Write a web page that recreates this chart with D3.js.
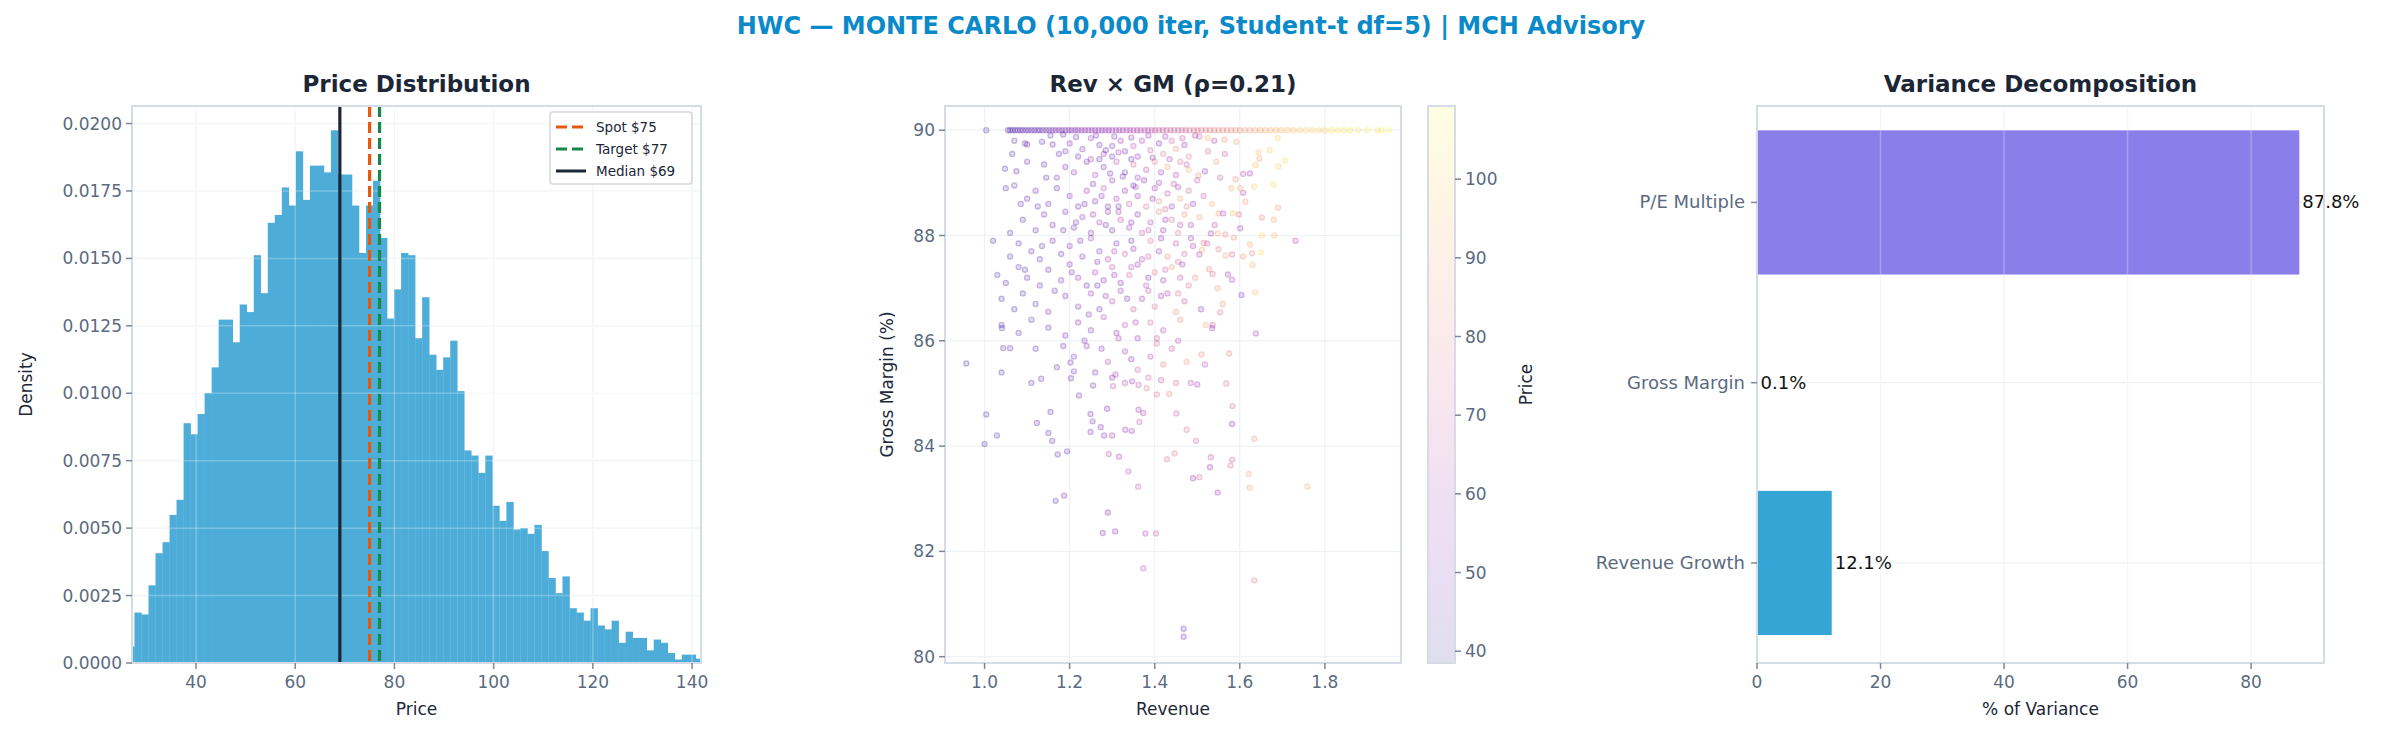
<!DOCTYPE html>
<html><head><meta charset="utf-8">
<script src="https://cdn.jsdelivr.net/npm/d3@7"></script>
<style>body{margin:0;background:#fff}svg{font-family:"DejaVu Sans",sans-serif}</style>
</head><body><svg id="c" width="2382" height="742"></svg>
<script>
// ---------- DATA ----------
const histStart = 26.18, histBinWidth = 1.4145;
const histDensity = [0.00061,0.00187,0.00180,0.00288,0.00407,0.00448,0.00549,0.00605,0.00889,0.00848,
0.00923,0.01001,0.01096,0.01273,0.01273,0.01189,0.01329,0.01301,0.01512,0.01371,
0.01632,0.01661,0.01763,0.01696,0.01897,0.01717,0.01844,0.01844,0.01819,0.01975,
0.01811,0.01811,0.01696,0.01520,0.01696,0.01788,0.01576,0.01277,0.01385,0.01520,
0.01512,0.01204,0.01356,0.01143,0.01087,0.01133,0.01195,0.01008,0.00788,0.00769,
0.00705,0.00769,0.00583,0.00527,0.00597,0.00495,0.00500,0.00479,0.00512,0.00415,
0.00315,0.00259,0.00321,0.00203,0.00187,0.00157,0.00203,0.00139,0.00125,0.00157,
0.00075,0.00116,0.00093,0.00093,0.00047,0.00087,0.00075,0.00037,0.00013,0.00031,
0.00031,0.00016];
const refLines = [{label:"Spot $75",value:75,color:"#e8580c",dash:true},
                  {label:"Target $77",value:77,color:"#16894a",dash:true},
                  {label:"Median $69",value:69,color:"#1b2636",dash:false}];
const histXTicks = [40,60,80,100,120,140];
const histYTicks = [0,0.0025,0.005,0.0075,0.01,0.0125,0.015,0.0175,0.02];

// scatter: [revenue, gross margin %, price]
const gm90Rev = [1.004,1.055,1.06,1.066,1.072,1.078,1.084,1.09,1.097,1.103,1.11,1.117,1.124,1.13,1.137,1.145,1.152,1.16,1.167,1.175,1.182,1.19,1.198,1.205,1.213,1.22,1.228,1.236,1.244,1.252,1.26,1.268,1.276,1.284,1.292,1.3,1.309,1.317,1.325,1.334,1.342,1.35,1.359,1.367,1.376,1.384,1.393,1.401,1.41,1.419,1.428,1.437,1.446,1.455,1.464,1.473,1.482,1.492,1.501,1.51,1.52,1.53,1.54,1.55,1.56,1.57,1.58,1.59,1.6,1.612,1.624,1.636,1.648,1.66,1.672,1.685,1.698,1.712,1.726,1.74,1.755,1.77,1.786,1.8,1.815,1.83,1.845,1.86,1.878,1.9,1.924,1.933,1.95];
const gm90Price = [44,45,44,45,46,45,46,47,46,47,48,47,48,49,48,49,50,49,50,51,52,51,52,53,52,54,53,55,54,56,55,57,56,58,57,59,58,60,61,60,62,63,62,64,65,64,66,67,68,67,69,70,71,72,71,73,74,75,76,77,78,79,80,81,82,83,84,85,86,87,88,89,90,91,92,93,94,95,96,97,98,99,100,101,102,103,104,104,105,106,106,107,108];
const scatterPts = [
[0.957,85.57,40],[1.004,84.6,42],[1.0,84.04,41],[1.029,84.2,42],[1.123,84.44,45],[1.15,84.25,46],[1.159,84.1,44],[1.172,83.84,45],[1.194,83.9,47],
[1.167,82.96,44],[1.187,83.06,46],[1.29,82.74,48],[1.278,82.35,52],[1.307,82.38,50],[1.378,82.34,62],[1.403,82.34,70],[1.373,81.68,66],[1.468,80.53,48],[1.468,80.38,50],
[1.04,85.4,42],[1.044,85.86,43],[1.06,85.86,44],[1.041,86.24,43],[1.11,85.2,45],[1.133,85.28,46],[1.155,84.65,44],[1.222,84.96,49],[1.249,84.61,50],[1.254,84.47,52],
[1.273,84.36,48],[1.249,84.27,51],[1.281,84.2,55],[1.3,84.2,58],[1.288,84.71,47],[1.292,83.85,65],[1.316,83.8,60],[1.338,83.52,66],[1.361,83.23,68],[1.331,84.31,57],
[1.346,84.29,55],[1.364,84.46,70],[1.362,84.69,58],[1.373,84.63,62],[1.302,85.14,68],[1.308,85.36,60],[1.33,85.2,64],[1.347,85.23,57],[1.362,85.16,66],[1.385,85.3,72],
[1.405,84.98,75],[1.434,84.99,82],[1.381,85.1,80],[1.451,84.62,70],[1.429,83.75,74],[1.447,83.86,78],[1.203,85.29,47],[1.202,85.59,50],[1.21,85.42,52],
[1.731,87.9,62],[1.638,86.14,60],[1.582,84.42,50],[1.583,84.76,72],[1.568,85.19,74],[1.575,85.76,80],[1.634,84.14,85],[1.532,83.79,66],[1.582,83.74,70],[1.578,83.63,76],
[1.53,83.6,54],[1.621,83.47,88],[1.623,83.21,90],[1.759,83.23,92],[1.548,83.12,58],[1.505,83.41,72],[1.49,83.39,56],[1.634,81.45,78],[1.497,84.1,70],[1.475,84.31,76],
[1.5,85.17,60],[1.485,85.2,66],[1.518,85.55,64],[1.51,85.74,82],[1.604,86.87,52],[1.636,86.92,95],[1.56,86.7,84],[1.554,86.54,76],[1.536,86.3,66],[1.52,86.3,90],
[1.535,86.24,58],[1.509,86.6,55],[1.582,87.16,60],[1.572,87.26,58],[1.536,87.27,74],[1.528,87.36,80],[1.548,87.0,88],[1.63,87.44,92],[1.65,87.68,104],[1.629,87.66,80],
[1.608,87.6,86],[1.582,87.64,72],[1.567,87.62,88],[1.55,87.74,78],[1.652,88.0,100],[1.681,88.0,96],[1.624,87.83,92],[1.601,88.14,58],[1.586,87.96,84],[1.652,88.34,80],
[1.68,88.3,90],[1.69,88.53,84],[1.679,88.97,104],[1.634,88.93,100],[1.608,88.81,62],[1.601,88.9,90],[1.613,88.64,88],[1.584,88.42,96],[1.598,88.4,74],[1.561,88.42,60],
[1.55,88.42,86],[1.541,88.2,64],[1.532,88.04,58],[1.548,88.04,90],[1.515,87.86,80],[1.523,87.85,70],[1.511,87.73,92],[1.505,87.64,62],[1.566,88.02,82],[1.707,89.42,104],
[1.691,89.31,98],[1.67,89.62,100],[1.644,89.58,94],[1.646,89.46,88],[1.637,89.34,96],[1.624,89.18,60],[1.608,89.17,64],[1.59,89.07,86],[1.58,88.9,92],[1.554,89.1,66],
[1.518,89.22,56],[1.503,89.14,84],[1.592,89.78,90],[1.564,89.82,86],[1.54,89.8,62],[1.689,89.85,100],
[1.07,89.8,44],[1.095,89.75,45],[1.1,89.73,44],[1.135,89.78,47],[1.16,89.73,46],[1.19,89.6,48],[1.2,89.75,52],[1.23,89.64,50],[1.25,89.85,55],[1.27,89.72,47],
[1.28,89.55,60],[1.3,89.7,52],[1.32,89.8,58],[1.33,89.6,50],[1.35,89.7,66],[1.36,89.5,54],[1.37,89.8,62],[1.39,89.62,70],[1.41,89.75,52],[1.42,89.55,78],
[1.44,89.8,68],[1.45,89.65,84],[1.47,89.72,56],[1.48,89.5,80],[1.3,89.5,48],[1.25,89.45,62],[1.22,89.5,46],
[1.048,89.27,43],[1.075,89.22,44],[1.1,89.4,46],[1.14,89.35,45],[1.17,89.1,48],[1.19,89.3,47],[1.21,89.2,55],[1.24,89.4,49],[1.26,89.15,62],[1.28,89.3,51],
[1.3,89.05,57],[1.31,89.4,66],[1.33,89.2,50],[1.35,89.35,72],[1.36,89.1,54],[1.38,89.25,64],[1.4,89.4,80],[1.41,89.0,58],[1.43,89.3,88],[1.45,89.15,62],
[1.46,89.4,76],[1.48,89.25,92],[1.5,89.05,70],[1.27,89.45,46],[1.35,88.95,48],
[1.05,88.9,43],[1.07,88.95,44],[1.1,88.7,45],[1.12,88.85,46],[1.15,88.6,47],[1.17,88.9,45],[1.2,88.75,52],[1.22,88.55,48],[1.24,88.85,58],[1.26,88.65,50],
[1.28,88.9,64],[1.29,88.55,47],[1.31,88.7,60],[1.33,88.85,52],[1.34,88.6,68],[1.36,88.75,56],[1.38,88.55,74],[1.4,88.9,60],[1.41,88.65,84],[1.43,88.8,66],
[1.44,88.55,54],[1.46,88.7,90],[1.48,88.85,72],[1.49,88.6,58],
[1.06,88.05,43],[1.09,88.3,44],[1.12,88.1,45],[1.14,88.4,47],[1.16,88.2,46],[1.19,88.45,50],[1.21,88.15,48],[1.23,88.35,56],[1.25,88.05,50],[1.27,88.25,62],
[1.29,88.45,54],[1.3,88.1,48],[1.32,88.3,66],[1.34,88.15,58],[1.36,88.4,52],[1.37,88.05,70],[1.39,88.25,62],[1.41,88.45,82],[1.42,88.1,56],[1.44,88.3,74],
[1.46,88.2,64],[1.47,88.4,86],
[1.02,87.9,42],[1.06,87.6,43],[1.08,87.85,44],[1.11,87.7,45],[1.13,87.55,46],[1.16,87.9,47],[1.18,87.65,46],[1.2,87.8,54],[1.23,87.6,49],[1.25,87.95,58],
[1.27,87.7,50],[1.29,87.55,64],[1.31,87.85,52],[1.33,87.65,70],[1.35,87.75,56],[1.37,87.55,62],[1.39,87.9,76],[1.41,87.7,58],[1.43,87.6,82],[1.45,87.85,66],
[1.47,87.65,72],[1.49,87.8,60],
[1.03,87.25,42],[1.05,87.1,43],[1.08,87.4,44],[1.1,87.2,45],[1.13,87.05,46],[1.15,87.35,45],[1.18,87.15,48],[1.2,87.45,50],[1.22,87.2,56],[1.24,87.05,48],
[1.26,87.3,60],[1.28,87.15,52],[1.3,87.4,66],[1.32,87.1,54],[1.34,87.25,72],[1.36,87.45,58],[1.38,87.05,64],[1.4,87.3,78],[1.42,87.15,60],[1.44,87.4,86],
[1.46,87.2,66],[1.48,87.05,74],
[1.04,86.8,42],[1.07,86.6,43],[1.09,86.9,44],[1.12,86.7,45],[1.15,86.55,47],[1.19,86.85,48],[1.22,86.65,52],[1.25,86.9,58],[1.27,86.6,50],[1.3,86.75,64],
[1.32,86.95,56],[1.35,86.6,70],[1.37,86.8,60],[1.4,86.65,76],[1.43,86.9,62],[1.45,86.55,84],[1.47,86.75,68],
[1.04,86.3,42],[1.08,86.15,44],[1.11,86.4,45],[1.15,86.25,46],[1.19,86.1,47],[1.22,86.35,54],[1.25,86.2,50],[1.28,86.45,62],[1.31,86.15,56],[1.33,86.3,68],
[1.36,86.05,58],[1.39,86.35,74],[1.42,86.2,64],[1.46,86.4,80],
[1.12,85.85,45],[1.17,85.5,47],[1.21,85.7,50],[1.24,85.9,56],[1.26,85.4,52],[1.29,85.6,62],[1.33,85.8,58],[1.36,85.45,70],[1.39,85.7,64],[1.42,85.55,78],
[1.44,85.85,68],[1.3,85.3,54],[1.45,85.2,74],
// denser core
[1.215,89.87,46],[1.262,89.9,50],[1.305,89.88,48],[1.345,89.86,52],[1.385,89.9,56],[1.425,89.88,60],[1.465,89.85,64],[1.505,89.88,70],[1.285,89.62,45],[1.315,89.58,58],
[1.345,89.45,47],[1.395,89.48,55],[1.435,89.45,61],[1.475,89.35,68],[1.325,89.12,46],[1.375,89.05,51],[1.415,89.2,57],[1.445,88.98,66],[1.255,88.98,52],[1.295,89.18,48],
[1.235,88.6,46],[1.275,88.75,55],[1.315,88.55,49],[1.355,88.92,63],[1.395,88.7,53],[1.425,88.5,72],[1.455,88.92,60],[1.475,88.55,82],[1.515,88.75,66],[1.535,88.6,94],
[1.215,88.25,47],[1.255,88.4,58],[1.285,88.2,46],[1.315,88.45,60],[1.345,88.25,50],[1.385,88.1,66],[1.425,88.3,56],[1.455,88.05,78],[1.485,88.2,62],[1.505,88.35,88],
[1.225,87.9,48],[1.265,87.5,52],[1.305,87.7,62],[1.345,87.9,48],[1.385,87.6,68],[1.415,87.95,54],[1.455,87.5,74],[1.485,87.95,58],[1.265,87.05,46],[1.305,87.25,55],
[1.345,87.4,64],[1.385,87.2,50],[1.425,87.35,70],[1.465,87.45,60],[1.495,87.2,84],[1.285,86.85,58],[1.335,86.8,48],[1.385,86.95,66],[1.415,86.85,55],[1.455,86.9,76],
[1.175,89.55,45],[1.145,89.1,44],[1.125,88.55,45],[1.185,88.1,46],[1.135,87.8,44],[1.205,87.3,49],[1.165,86.95,46],[1.245,86.5,52],[1.355,86.35,62],[1.405,86.05,70],
[1.095,87.35,44],[1.085,88.6,44],[1.065,89.55,43],[1.155,89.9,45],[1.185,89.92,46],[1.525,89.6,72],[1.545,89.4,88],[1.565,89.55,70],[1.525,89.85,94],[1.495,89.9,60],
[1.275,85.85,54],[1.315,86.05,60],[1.345,85.65,52],[1.405,85.95,74],[1.455,86.0,64],[1.475,85.6,86],[1.255,85.15,48],[1.415,85.25,66],[1.185,85.9,46],[1.235,86.0,50]
];
const scatXTicks = [1.0,1.2,1.4,1.6,1.8];
const scatYTicks = [80,82,84,86,88,90];
const cbarTicks = [40,50,60,70,80,90,100];

const varCats = ["P/E Multiple","Gross Margin","Revenue Growth"];
const varValues = [87.8,0.1,12.1];
const varLabels = ["87.8%","0.1%","12.1%"];
const varColors = ["#8a7fea","#10b981","#35a5d6"];
const varXTicks = [0,20,40,60,80];

// ---------- DRAW ----------
const svg = d3.select("#c");
const TICK="#5b6b7f", DARK="#1b2636", SPINE="#d5dce6", GRID="#eef1f5";
const FS=17;
svg.append("text").attr("x",1191).attr("y",34).attr("text-anchor","middle")
  .attr("font-size",24).attr("font-weight","bold").attr("fill","#0b8ac9")
  .text("HWC — MONTE CARLO (10,000 iter, Student-t df=5) | MCH Advisory");

function frame(g,L,R,T,B,title){
  g.append("text").attr("x",(L+R)/2).attr("y",T-14).attr("text-anchor","middle")
    .attr("font-size",23).attr("font-weight","bold").attr("fill",DARK).text(title);
}
function spines(g,L,R,T,B){
  g.append("rect").attr("x",L).attr("y",T).attr("width",R-L).attr("height",B-T)
   .attr("fill","none").attr("stroke",SPINE).attr("stroke-width",2);
}
function xAxis(g,x,B,ticks,fmt){
  ticks.forEach(t=>{
    g.append("line").attr("x1",x(t)).attr("x2",x(t)).attr("y1",B).attr("y2",B+6).attr("stroke","#7b8899").attr("stroke-width",1.5);
    g.append("text").attr("x",x(t)).attr("y",B+25).attr("text-anchor","middle").attr("font-size",FS).attr("fill",TICK).text(fmt(t));
  });
}
function yAxis(g,y,L,ticks,fmt){
  ticks.forEach(t=>{
    g.append("line").attr("x1",L-6).attr("x2",L).attr("y1",y(t)).attr("y2",y(t)).attr("stroke","#7b8899").attr("stroke-width",1.5);
    g.append("text").attr("x",L-10).attr("y",y(t)+6).attr("text-anchor","end").attr("font-size",FS).attr("fill",TICK).text(fmt(t));
  });
}
function gridX(g,x,ticks,T,B){ticks.forEach(t=>g.append("line").attr("x1",x(t)).attr("x2",x(t)).attr("y1",T).attr("y2",B).attr("stroke",GRID).attr("stroke-width",1.2));}
function gridY(g,y,ticks,L,R){ticks.forEach(t=>g.append("line").attr("x1",L).attr("x2",R).attr("y1",y(t)).attr("y2",y(t)).attr("stroke",GRID).attr("stroke-width",1.2));}

// Panel 1
{
  const L=132,R=701,T=106,B=663;
  const g=svg.append("g");
  const x=d3.scaleLinear().domain([27.1,141.8]).range([L,R]);
  const y=d3.scaleLinear().domain([0,0.02065]).range([B,T]);
  frame(g,L,R,T,B,"Price Distribution");
  svg.append("clipPath").attr("id","cp1").append("rect").attr("x",L).attr("y",T).attr("width",R-L).attr("height",B-T);
  gridX(g,x,histXTicks,T,B); gridY(g,y,histYTicks,L,R);
  const bars=g.append("g").attr("clip-path","url(#cp1)");
  histDensity.forEach((d,i)=>{
    const x0=histStart+i*histBinWidth;
    bars.append("rect").attr("x",x(x0)).attr("width",x(x0+histBinWidth)-x(x0)+0.3)
      .attr("y",y(d)).attr("height",B-y(d)).attr("fill","#4dadd8");
  });
  histXTicks.forEach(t=>bars.append("line").attr("x1",x(t)).attr("x2",x(t)).attr("y1",T).attr("y2",B).attr("stroke","#fff").attr("stroke-opacity",0.25).attr("stroke-width",1.5));
  histYTicks.forEach(t=>bars.append("line").attr("x1",L).attr("x2",R).attr("y1",y(t)).attr("y2",y(t)).attr("stroke","#fff").attr("stroke-opacity",0.25).attr("stroke-width",1.5));
  refLines.forEach(r=>{
    g.append("line").attr("x1",x(r.value)).attr("x2",x(r.value)).attr("y1",T).attr("y2",B)
     .attr("stroke",r.color).attr("stroke-width",3.2).attr("stroke-dasharray",r.dash?"11,5":null);
  });
  spines(g,L,R,T,B);
  xAxis(g,x,B,histXTicks,d=>d);
  yAxis(g,y,L,histYTicks,d3.format(".4f"));
  g.append("text").attr("x",(L+R)/2).attr("y",B+52).attr("text-anchor","middle").attr("font-size",FS).attr("fill",DARK).text("Price");
  g.append("text").attr("transform",`translate(${L-100},${(T+B)/2}) rotate(-90)`).attr("text-anchor","middle").attr("font-size",FS).attr("fill",DARK).text("Density");
  const lg=g.append("g");
  lg.append("rect").attr("x",550).attr("y",112).attr("width",142).attr("height",72).attr("rx",3)
    .attr("fill","#fff").attr("fill-opacity",0.85).attr("stroke","#d6d6d6").attr("stroke-width",1.5);
  refLines.forEach((r,i)=>{
    const yy=127+i*22;
    lg.append("line").attr("x1",556).attr("x2",586).attr("y1",yy).attr("y2",yy).attr("stroke",r.color).attr("stroke-width",3).attr("stroke-dasharray",r.dash?"11,5":null);
    lg.append("text").attr("x",596).attr("y",yy+5).attr("font-size",13.5).attr("fill",DARK).text(r.label);
  });
}

// Panel 2
{
  const L=945,R=1401,T=106,B=663;
  const g=svg.append("g");
  const x=d3.scaleLinear().domain([0.907,1.979]).range([L,R]);
  const y=d3.scaleLinear().domain([79.88,90.46]).range([B,T]);
  const col=d3.scaleSequential(d3.interpolatePlasma).domain([38.5,109.3]);
  frame(g,L,R,T,B,"Rev × GM (ρ=0.21)");
  gridX(g,x,scatXTicks,T,B); gridY(g,y,scatYTicks,L,R);
  const pts=scatterPts.concat(gm90Rev.map((r,i)=>[r,90,gm90Price[i]]));
  g.append("g").selectAll("circle").data(pts).join("circle")
   .attr("cx",d=>x(d[0])).attr("cy",d=>y(d[1])).attr("r",2.6)
   .attr("fill",d=>col(d[2])).attr("fill-opacity",0.15)
   .attr("stroke",d=>col(d[2])).attr("stroke-opacity",0.25).attr("stroke-width",1.2);
  spines(g,L,R,T,B);
  xAxis(g,x,B,scatXTicks,d3.format(".1f"));
  yAxis(g,y,L,scatYTicks,d=>d);
  g.append("text").attr("x",(L+R)/2).attr("y",B+52).attr("text-anchor","middle").attr("font-size",FS).attr("fill",DARK).text("Revenue");
  g.append("text").attr("transform",`translate(${L-52},${(T+B)/2}) rotate(-90)`).attr("text-anchor","middle").attr("font-size",FS).attr("fill",DARK).text("Gross Margin (%)");
  const cx0=1428,cw=27;
  const cy=d3.scaleLinear().domain([38.5,109.3]).range([B,T]);
  const grad=svg.append("defs").append("linearGradient").attr("id","cbg").attr("x1",0).attr("y1",1).attr("x2",0).attr("y2",0);
  d3.range(0,1.0001,0.05).forEach(t=>grad.append("stop").attr("offset",t).attr("stop-color",d3.interpolatePlasma(t)).attr("stop-opacity",0.13));
  g.append("rect").attr("x",cx0).attr("y",T).attr("width",cw).attr("height",B-T).attr("fill","url(#cbg)").attr("stroke",SPINE).attr("stroke-width",2);
  cbarTicks.forEach(t=>{
    g.append("line").attr("x1",cx0+cw).attr("x2",cx0+cw+6).attr("y1",cy(t)).attr("y2",cy(t)).attr("stroke","#7b8899").attr("stroke-width",1.5);
    g.append("text").attr("x",cx0+cw+10).attr("y",cy(t)+6).attr("font-size",FS).attr("fill",TICK).text(t);
  });
  g.append("text").attr("transform",`translate(${1532},${(T+B)/2}) rotate(-90)`).attr("text-anchor","middle").attr("font-size",FS).attr("fill",DARK).text("Price");
}

// Panel 3
{
  const L=1757,R=2324,T=106,B=663;
  const g=svg.append("g");
  const x=d3.scaleLinear().domain([0,91.8]).range([L,R]);
  const y=d3.scaleLinear().domain([-0.535,2.555]).range([T,B]);
  frame(g,L,R,T,B,"Variance Decomposition");
  gridX(g,x,varXTicks,T,B);
  varCats.forEach((c,i)=>g.append("line").attr("x1",L).attr("x2",R).attr("y1",y(i)).attr("y2",y(i)).attr("stroke",GRID).attr("stroke-width",1.2));
  const bh=y(0.4)-y(-0.4);
  varValues.forEach((v,i)=>{
    g.append("rect").attr("x",x(0)).attr("y",y(i)-bh/2).attr("width",x(v)-x(0)).attr("height",bh).attr("fill",varColors[i]);
    g.append("text").attr("x",x(v)+3).attr("y",y(i)+6).attr("font-size",FS+1).attr("fill","#111").text(varLabels[i]);
  });
  varXTicks.forEach(t=>g.append("line").attr("x1",x(t)).attr("x2",x(t)).attr("y1",T).attr("y2",B).attr("stroke","#fff").attr("stroke-opacity",0.25).attr("stroke-width",1.5));
  spines(g,L,R,T,B);
  xAxis(g,x,B,varXTicks,d=>d);
  varCats.forEach((c,i)=>{
    g.append("line").attr("x1",L-6).attr("x2",L).attr("y1",y(i)).attr("y2",y(i)).attr("stroke","#7b8899").attr("stroke-width",1.5);
    g.append("text").attr("x",L-12).attr("y",y(i)+6).attr("text-anchor","end").attr("font-size",FS+1).attr("fill",TICK).text(c);
  });
  g.append("text").attr("x",(L+R)/2).attr("y",B+52).attr("text-anchor","middle").attr("font-size",FS).attr("fill",DARK).text("% of Variance");
}
</script></body></html>
